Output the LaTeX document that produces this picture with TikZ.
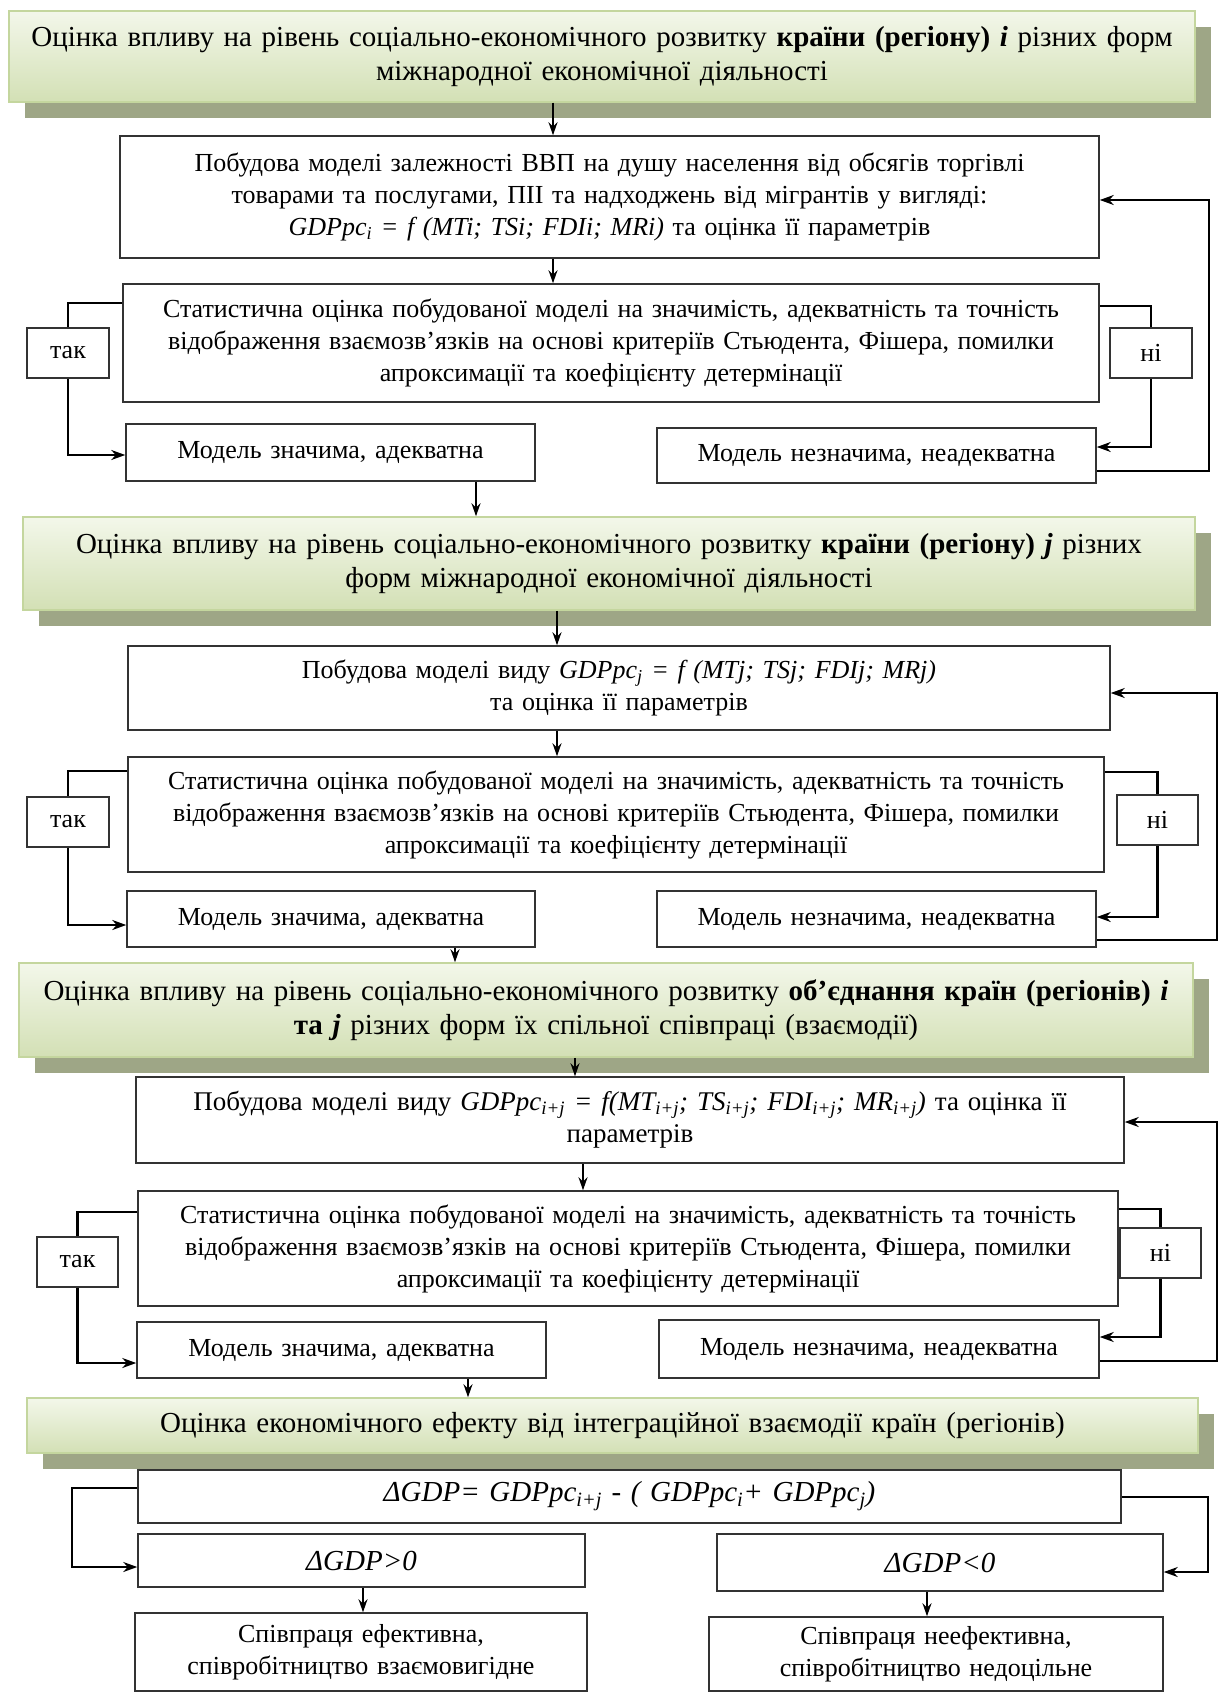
\documentclass[tikz,border=0pt]{standalone}
\usepackage{fontspec}
\setmainfont{Liberation Serif}
\usetikzlibrary{arrows.meta,shadows}
\definecolor{hdrtop}{HTML}{F3F7EA}
\definecolor{hdrbot}{HTML}{D3E0B5}
\definecolor{hdrline}{HTML}{C4D69E}
\definecolor{shadowc}{HTML}{9EA686}
\begin{document}
\begin{tikzpicture}[x=1pt,y=-1pt,
  every node/.style={font=\fontsize{26}{32}\selectfont, align=center, inner sep=0pt},
  sz/.style 2 args={minimum width=#1pt, minimum height=#2pt, text width=#1pt-20pt},
  box/.style={draw=black!80, line width=1.5pt, fill=white},
  big/.style={font=\fontsize{29}{34}\selectfont},
  hdr/.style={draw=hdrline, line width=1.5pt, top color=hdrtop, bottom color=hdrbot,
    font=\fontsize{29}{34}\selectfont,
    drop shadow={shadow xshift=16pt, shadow yshift=-16pt, fill=shadowc, opacity=1}},
  arr/.style={-{Stealth[length=13pt,width=9pt]}, line width=1.6pt, black},
  side/.style={line width=2.2pt, black},
  sidearr/.style={side, -{Stealth[length=14pt,width=10pt]}},
]
\useasboundingbox (0,0) rectangle (1219,1693);
\fill[white] (0,0) rectangle (1219,1693);

% ---------- Section 1 ----------
\node[hdr, sz={1186}{91}] (H1) at (602,56.5)
  {Оцінка впливу на рівень соціально-економічного розвитку \textbf{країни (регіону)} \textbf{\textit{i}} різних форм\\ міжнародної економічної діяльності};
\node[box, sz={979}{122}] (B1) at (609.5,197)
  {Побудова моделі залежності ВВП на душу населення від обсягів торгівлі\\ товарами та послугами, ПІІ та надходжень від мігрантів у вигляді:\\ \textit{GDPpc\textsubscript{i} = f (MTi; TSi; FDIi; MRi)} та оцінка її параметрів};
\node[box, sz={976}{118}] (S1) at (611,343)
  {Статистична оцінка побудованої моделі на значимість, адекватність та точність\\ відображення взаємозв’язків на основі критеріїв Стьюдента, Фішера, помилки\\ апроксимації та коефіцієнту детермінації};
\node[box, sz={82}{50}] (tak1) at (68,353) {так};
\node[box, sz={82}{50}] (ni1) at (1151,353) {ні};
\node[box, sz={409}{57}] (M1) at (330.5,452.5) {Модель значима, адекватна};
\node[box, sz={439}{55}] (N1) at (876.5,455.5) {Модель незначима, неадекватна};

% ---------- Section 2 ----------
\node[hdr, sz={1172}{93}] (H2) at (609,563.5)
  {Оцінка впливу на рівень соціально-економічного розвитку \textbf{країни (регіону)} \textbf{\textit{j}} різних\\ форм міжнародної економічної діяльності};
\node[box, sz={982}{84}] (B2) at (619,688)
  {Побудова моделі виду \textit{GDPpc\textsubscript{j} = f (MTj; TSj; FDIj; MRj)}\\ та оцінка її параметрів};
\node[box, sz={976}{115}] (S2) at (616,814.5)
  {Статистична оцінка побудованої моделі на значимість, адекватність та точність\\ відображення взаємозв’язків на основі критеріїв Стьюдента, Фішера, помилки\\ апроксимації та коефіцієнту детермінації};
\node[box, sz={82}{50}] (tak2) at (68,822) {так};
\node[box, sz={81}{50}] (ni2) at (1157.5,820) {ні};
\node[box, sz={408}{56}] (M2) at (331,919) {Модель значима, адекватна};
\node[box, sz={439}{56}] (N2) at (876.5,919) {Модель незначима, неадекватна};

% ---------- Section 3 ----------
\node[hdr, sz={1174}{94}] (H3) at (606,1010)
  {Оцінка впливу на рівень соціально-економічного розвитку \textbf{об’єднання країн (регіонів)} \textbf{\textit{i}}\\ \textbf{та \textit{j}} різних форм їх спільної співпраці (взаємодії)};
\node[box, sz={988}{86}, font=\fontsize{27}{32}\selectfont] (B3) at (630,1120)
  {Побудова моделі виду \textit{GDPpc\textsubscript{i+j} = f(MT\textsubscript{i+j}; TS\textsubscript{i+j}; FDI\textsubscript{i+j}; MR\textsubscript{i+j})} та оцінка її\\ параметрів};
\node[box, sz={980}{115}] (S3) at (628,1248.5)
  {Статистична оцінка побудованої моделі на значимість, адекватність та точність\\ відображення взаємозв’язків на основі критеріїв Стьюдента, Фішера, помилки\\ апроксимації та коефіцієнту детермінації};
\node[box, sz={81}{50}] (tak3) at (77.5,1262) {так};
\node[box, sz={81}{50}] (ni3) at (1160.5,1253) {ні};
\node[box, sz={409}{56}] (M3) at (341.5,1350) {Модель значима, адекватна};
\node[box, sz={440}{58}] (N3) at (879,1349) {Модель незначима, неадекватна};

% ---------- Section 4 ----------
\node[hdr, sz={1171}{55}] (H4) at (612.5,1425.5)
  {Оцінка економічного ефекту від інтеграційної взаємодії країн (регіонів)};
\node[box, big, sz={983}{53}] (B4) at (629.5,1496.5)
  {\textit{ΔGDP= GDPpc\textsubscript{i+j} - ( GDPpc\textsubscript{i}+ GDPpc\textsubscript{j})}};
\node[box, big, sz={447}{53}] (G1) at (361.5,1560.5) {\textit{ΔGDP>0}};
\node[box, big, sz={446}{57}] (G2) at (940,1562.5) {\textit{ΔGDP<0}};
\node[box, sz={452}{78}] (R1) at (361,1652) {Співпраця ефективна,\\ співробітництво взаємовигідне};
\node[box, sz={454}{74}] (R2) at (936,1654) {Співпраця неефективна,\\ співробітництво недоцільне};

% ---------- vertical arrows ----------
\draw[arr] (H1.south -| 553,0) -- (B1.north -| 553,0);
\draw[arr] (B1.south -| 553,0) -- (S1.north -| 553,0);
\draw[arr] (M1.south -| 476,0) -- (H2.north -| 476,0);
\draw[arr] (H2.south -| 557,0) -- (B2.north -| 557,0);
\draw[arr] (B2.south -| 557,0) -- (S2.north -| 557,0);
\draw[arr] (M2.south -| 455,0) -- (H3.north -| 455,0);
\draw[arr] (H3.south -| 575,0) -- (B3.north -| 575,0);
\draw[arr] (B3.south -| 583,0) -- (S3.north -| 583,0);
\draw[arr] (M3.south -| 468,0) -- (H4.north -| 468,0);
\draw[arr] (G1.south -| 363,0) -- (R1.north -| 363,0);
\draw[arr] (G2.south -| 927,0) -- (R2.north -| 927,0);

% ---------- side connectors ----------
\draw[side] (S1.west |- 0,303) -| (tak1.north);
\draw[sidearr] (tak1.south) |- (M1.west |- 0,455);
\draw[side] (S1.east |- 0,306) -| (ni1.north);
\draw[sidearr] (ni1.south) |- (N1.east |- 0,447);
\draw[sidearr] (N1.east |- 0,471) -- (1209,471) |- (B1.east |- 0,200);

\draw[side] (S2.west |- 0,771) -| (tak2.north);
\draw[sidearr] (tak2.south) |- (M2.west |- 0,925);
\draw[side] (S2.east |- 0,772) -| (ni2.north);
\draw[sidearr] (ni2.south) |- (N2.east |- 0,917);
\draw[sidearr] (N2.east |- 0,940) -- (1217,940) |- (B2.east |- 0,693);

\draw[side] (S3.west |- 0,1212) -| (tak3.north);
\draw[sidearr] (tak3.south) |- (M3.west |- 0,1363);
\draw[side] (S3.east |- 0,1209) -| (ni3.north);
\draw[sidearr] (ni3.south) |- (N3.east |- 0,1337);
\draw[sidearr] (N3.east |- 0,1361) -- (1217,1361) |- (B3.east |- 0,1122);

\draw[sidearr] (B4.west |- 0,1488) -- (72,1488) |- (G1.west |- 0,1567);
\draw[sidearr] (B4.east |- 0,1497) -- (1208,1497) |- (G2.east |- 0,1572);
\end{tikzpicture}
\end{document}
